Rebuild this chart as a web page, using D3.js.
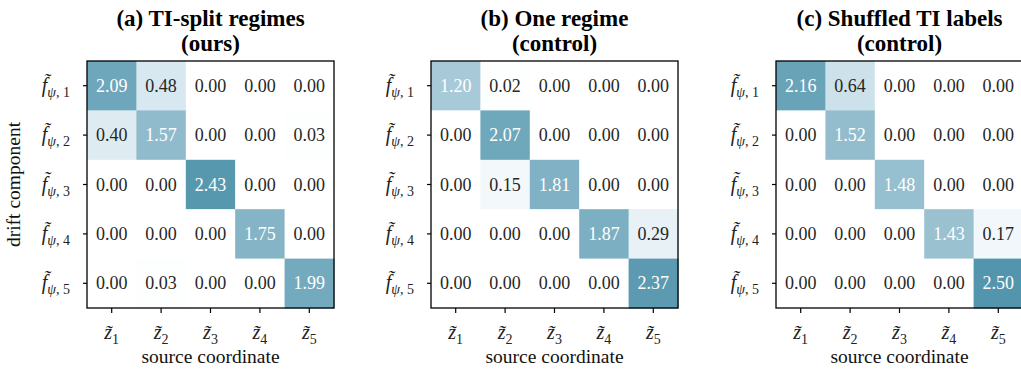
<!DOCTYPE html>
<html>
<head>
<meta charset="utf-8">
<script src="https://cdn.jsdelivr.net/npm/d3@7"></script>
<style>
  body { margin: 0; background: #fff; }
  svg text { font-family: 'Liberation Serif', 'DejaVu Serif', 'Times New Roman', serif; }
</style>
</head>
<body>
<svg id="chart"></svg>
<script>
const rows = ['1', '2', '3', '4', '5'];
const cols = ['1', '2', '3', '4', '5'];

const titlesA = ['(a) TI-split regimes', '(ours)'];
const titlesB = ['(b) One regime', '(control)'];
const titlesC = ['(c) Shuffled TI labels', '(control)'];

const valuesA = [
  [2.09, 0.48, 0.00, 0.00, 0.00],
  [0.40, 1.57, 0.00, 0.00, 0.03],
  [0.00, 0.00, 2.43, 0.00, 0.00],
  [0.00, 0.00, 0.00, 1.75, 0.00],
  [0.00, 0.03, 0.00, 0.00, 1.99]
];
const valuesB = [
  [1.20, 0.02, 0.00, 0.00, 0.00],
  [0.00, 2.07, 0.00, 0.00, 0.00],
  [0.00, 0.15, 1.81, 0.00, 0.00],
  [0.00, 0.00, 0.00, 1.87, 0.29],
  [0.00, 0.00, 0.00, 0.00, 2.37]
];
const valuesC = [
  [2.16, 0.64, 0.00, 0.00, 0.00],
  [0.00, 1.52, 0.00, 0.00, 0.00],
  [0.00, 0.00, 1.48, 0.00, 0.00],
  [0.00, 0.00, 0.00, 1.43, 0.17],
  [0.00, 0.00, 0.00, 0.00, 2.50]
];

const panels = [
  { titles: titlesA, values: valuesA, left: 87, ylabel: true },
  { titles: titlesB, values: valuesB, left: 431, ylabel: false },
  { titles: titlesC, values: valuesC, left: 776, ylabel: false }
];

const width = 1021;
const height = 369;
const panelTop = 61;
const size = 247;
const serif = "'Liberation Serif', 'DejaVu Serif', serif";

const svg = d3.select('#chart').attr('width', width).attr('height', height);

const color = d3.scaleLinear()
  .domain([0, 0.5, 2.5])
  .range(['#ffffff', '#d6e7ef', '#5395ad'])
  .clamp(true);

panels.forEach(p => {
  const g = svg.append('g').attr('transform', `translate(${p.left},${panelTop})`);

  const x = d3.scaleBand().domain(cols).range([0, size]);
  const y = d3.scaleBand().domain(rows).range([0, size]);

  const cells = [];
  p.values.forEach((row, i) => row.forEach((v, j) => cells.push({ r: rows[i], c: cols[j], v })));

  g.selectAll('.cell')
    .data(cells)
    .enter()
    .append('rect')
    .attr('x', d => x(d.c))
    .attr('y', d => y(d.r))
    .attr('width', x.bandwidth() + 0.5)
    .attr('height', y.bandwidth() + 0.5)
    .attr('fill', d => color(d.v));

  g.selectAll('.val')
    .data(cells)
    .enter()
    .append('text')
    .attr('x', d => x(d.c) + x.bandwidth() / 2)
    .attr('y', d => y(d.r) + y.bandwidth() / 2)
    .attr('dy', '0.34em')
    .attr('text-anchor', 'middle')
    .attr('font-family', serif)
    .attr('fill', d => d.v > 1 ? '#ffffff' : '#262626')
    .style('font-size', '18px')
    .text(d => d.v.toFixed(2));

  g.append('rect')
    .attr('width', size)
    .attr('height', size)
    .attr('fill', 'none')
    .attr('stroke', '#000')
    .attr('stroke-width', 1.3);

  // y axis
  const ya = g.append('g')
    .call(d3.axisLeft(y).tickSize(4).tickFormat(''));
  ya.select('.domain').remove();
  ya.selectAll('line').attr('stroke', '#000').attr('stroke-width', 1.2);
  ya.selectAll('.tick').append('text')
    .attr('x', -17)
    .attr('dy', '0.3em')
    .attr('text-anchor', 'end')
    .attr('font-family', serif)
    .attr('fill', '#222')
    .style('font-size', '20px')
    .each(function (d) {
      const t = d3.select(this);
      t.append('tspan').style('font-style', 'italic').text('f\u0303');
      t.append('tspan').attr('dy', '5').style('font-size', '14px').style('font-style', 'italic').text('\u03c8');
      t.append('tspan').style('font-size', '14px').text(', ' + d);
    });

  // x axis
  const xa = g.append('g')
    .attr('transform', `translate(0,${size})`)
    .call(d3.axisBottom(x).tickSize(5).tickFormat(''));
  xa.select('.domain').remove();
  xa.selectAll('line').attr('stroke', '#000').attr('stroke-width', 1.2);
  xa.selectAll('.tick').append('text')
    .attr('y', 31)
    .attr('text-anchor', 'middle')
    .attr('font-family', serif)
    .attr('fill', '#222')
    .style('font-size', '20px')
    .each(function (d) {
      const t = d3.select(this);
      t.append('tspan').style('font-style', 'italic').text('z\u0303');
      t.append('tspan').attr('dy', '5').style('font-size', '14px').text(d);
    });

  g.append('text')
    .attr('x', size / 2)
    .attr('y', size + 55)
    .attr('text-anchor', 'middle')
    .attr('font-family', serif)
    .attr('fill', '#111')
    .style('font-size', '19.5px')
    .text('source coordinate');

  if (p.ylabel) {
    g.append('text')
      .attr('transform', `translate(${-67},${size / 2}) rotate(-90)`)
      .attr('text-anchor', 'middle')
      .attr('font-family', serif)
      .attr('fill', '#111')
      .style('font-size', '19.5px')
      .text('drift component');
  }

  p.titles.forEach((t, i) => {
    g.append('text')
      .attr('x', size / 2)
      .attr('y', -35 + i * 25)
      .attr('text-anchor', 'middle')
      .attr('font-family', serif)
      .attr('fill', '#000')
      .style('font-size', '23px')
      .style('font-weight', 'bold')
      .text(t);
  });
});
</script>
</body>
</html>
